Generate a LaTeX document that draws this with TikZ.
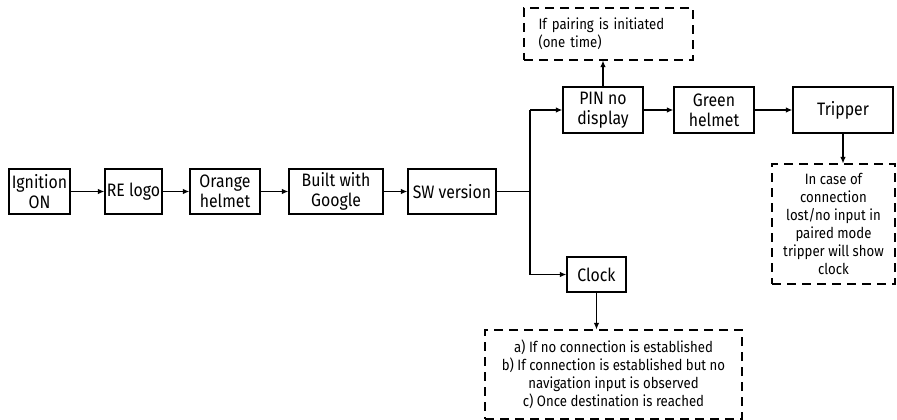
\documentclass[tikz,border=0pt]{standalone}
\usepackage{fontspec}
\setmainfont{Fira Sans}[FakeStretch=0.88]
\usetikzlibrary{arrows.meta}
\tikzset{
  box/.style={draw, line width=1.2pt, minimum height=45pt, inner sep=1pt,
    align=center, font=\fontsize{18}{20}\selectfont},
  note/.style={draw, dashed, dash pattern=on 9pt off 6pt, line width=1.1pt,
    inner sep=2pt, font=\fontsize{15}{18}\selectfont},
  link/.style={line width=1.4pt, -{Latex[length=6.5pt,width=5.5pt]}},
  thin link/.style={line width=1.1pt, -{Latex[length=6.5pt,width=5.5pt]}},
  rail/.style={line width=1.8pt}
}
\begin{document}
\begin{tikzpicture}[x=1pt,y=-1pt]
\useasboundingbox (0,0) rectangle (897,420);
% main start-up sequence
\node[box, minimum width=61pt] (ign)    at (39.5,191.5) {Ignition\\ON};
\node[box, minimum width=57pt] (re)     at (133.5,191.5) {RE logo};
\node[box, minimum width=70pt] (orange) at (225,191.5) {Orange\\helmet};
\node[box, minimum width=94pt] (built)  at (336,191.5) {Built with\\Google};
\node[box, minimum width=88pt] (sw)     at (452,191.5) {SW version};
% upper branch
\node[box, minimum width=80pt, minimum height=46pt] (pin)   at (603,110) {PIN no\\display};
\node[box, minimum width=80pt, minimum height=46pt] (green) at (714,110) {Green\\helmet};
\node[box, minimum width=100pt, minimum height=46pt] (trip) at (843,110) {Tripper};
% lower branch
\node[box, minimum width=59pt, minimum height=35pt] (clock) at (596.5,274.5) {Clock};
% conditions
\node[note, minimum width=169pt, minimum height=52pt, align=left, text width=140pt]
  (pair) at (608.5,34) {If pairing is initiated\\(one time)};
\node[note, minimum width=123pt, minimum height=120pt, align=center]
  (tripnote) at (833.5,224) {In case of\\connection\\lost/no input in\\paired mode\\tripper will show\\clock};
\node[note, minimum width=257pt, minimum height=89pt, align=center]
  (clocknote) at (613.5,374.5) {a) If no connection is established\\b) If connection is established but no\\navigation input is observed\\c) Once destination is reached};
% connectors
\draw[link] (ign) -- (re);
\draw[link] (re) -- (orange);
\draw[link] (orange) -- (built);
\draw[link] (built) -- (sw);
\coordinate (split) at (530,191.5);
\coordinate (up)    at (530,110);
\coordinate (down)  at (530,274.5);
\draw[rail] (sw.east) -- (split);
\draw[rail] (up) -- (down);
\draw[link] (up) -- (pin);
\draw[link] (down) -- (clock);
\draw[link] (pin) -- (green);
\draw[link] (green) -- (trip);
\draw[thin link] (pin.north) -- (pin.north |- pair.south);
\draw[thin link] (trip.south) -- (trip.south |- tripnote.north);
\draw[thin link] (clock.south) -- (clock.south |- clocknote.north);
\end{tikzpicture}
\end{document}
